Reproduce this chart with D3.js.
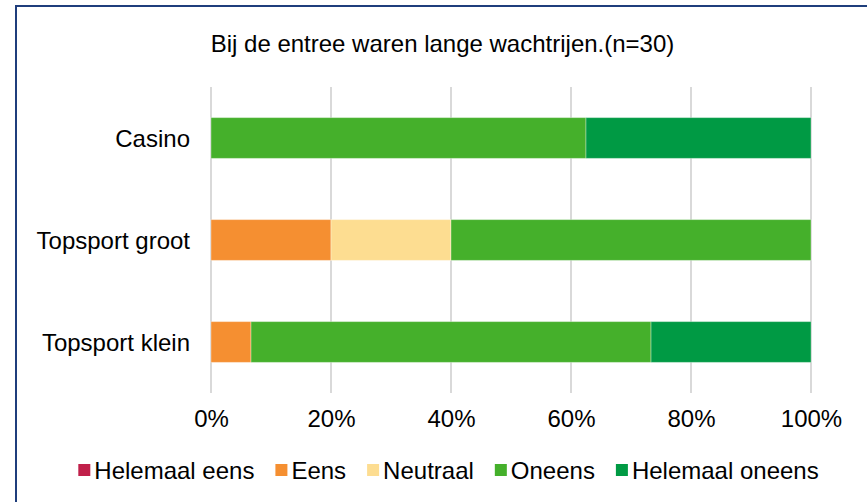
<!DOCTYPE html>
<html><head><meta charset="utf-8">
<script src="https://cdn.jsdelivr.net/npm/d3@7"></script>
<style>html,body{margin:0;padding:0;background:#fff;}svg{display:block;font-family:"Liberation Sans",Arial,sans-serif;}</style>
</head><body>
<svg id="c" width="867" height="502"></svg>
<script>
const title = "Bij de entree waren lange wachtrijen.(n=30)";
const categories = ["Casino", "Topsport groot", "Topsport klein"];
const seriesNames = ["Helemaal eens", "Eens", "Neutraal", "Oneens", "Helemaal oneens"];
const seriesColors = ["#C0204A", "#F58F31", "#FDDD91", "#45B02B", "#009A44"];
const helemaalEens = [0, 0, 0];
const eens = [0, 20, 6.67];
const neutraal = [0, 20, 0];
const oneens = [62.5, 60, 66.67];
const helemaalOneens = [37.5, 0, 26.67];
const tickValues = [0, 20, 40, 60, 80, 100];

const seriesValues = [helemaalEens, eens, neutraal, oneens, helemaalOneens];
const rows = categories.map((c, i) => {
  const r = {cat: c};
  seriesNames.forEach((s, j) => r[s] = seriesValues[j][i]);
  return r;
});

const svg = d3.select("#c");
const FS = 24;

svg.append("rect").attr("x", 16).attr("y", 6).attr("width", 900).attr("height", 600)
  .attr("fill", "#fff").attr("stroke", "#1F3E7C").attr("stroke-width", 2);

svg.append("text").attr("x", 442.5).attr("y", 52).attr("text-anchor", "middle")
  .attr("font-size", FS).attr("fill", "#000").text(title);

const x = d3.scaleLinear().domain([0, 100]).range([211, 811]);
const y = d3.scaleBand().domain(categories).range([87, 393]).paddingInner(0.6).paddingOuter(0.3);

// gridlines
svg.append("g").selectAll("line").data(tickValues).join("line")
  .attr("x1", d => x(d)).attr("x2", d => x(d)).attr("y1", 87).attr("y2", 393)
  .attr("stroke", "#D9D9D9").attr("stroke-width", 2);

const stack = d3.stack().keys(seriesNames)(rows);
svg.append("g").selectAll("g").data(stack).join("g")
  .attr("fill", (d, i) => seriesColors[i])
  .selectAll("rect").data(d => d.filter(p => p[1] - p[0] > 0)).join("rect")
  .attr("x", d => x(d[0])).attr("width", d => x(d[1]) - x(d[0]))
  .attr("y", d => y(d.data.cat)).attr("height", y.bandwidth())
  .attr("stroke", "#fff").attr("stroke-opacity", 0.35).attr("stroke-width", 1);

// y axis labels
const ya = svg.append("g").attr("transform", "translate(211,0)")
  .call(d3.axisLeft(y).tickSize(0).tickPadding(21));
ya.select(".domain").remove();
ya.selectAll("text").attr("font-size", FS).attr("fill", "#000")
  .attr("font-family", "Liberation Sans, Arial, sans-serif").attr("dy", "0.36em");

// x axis labels
const xa = svg.append("g").attr("transform", "translate(0,393)")
  .call(d3.axisBottom(x).tickValues(tickValues).tickFormat(d => d + "%").tickSize(0).tickPadding(17));
xa.select(".domain").remove();
xa.selectAll("text").attr("font-size", FS).attr("fill", "#000")
  .attr("font-family", "Liberation Sans, Arial, sans-serif");

// legend
const lg = svg.append("g");
const items = lg.selectAll("g").data(seriesNames).join("g");
items.append("rect").attr("width", 12).attr("height", 12).attr("y", 464)
  .attr("fill", (d, i) => seriesColors[i]);
items.append("text").attr("x", 16).attr("y", 479).attr("font-size", FS).attr("fill", "#000").text(d => d);
const widths = [];
items.each(function() { widths.push(this.querySelector("text").getComputedTextLength()); });
const gap = 21;
const total = widths.reduce((a, w) => a + 16 + w, 0) + gap * (widths.length - 1);
let cx = 448.5 - total / 2;
items.each(function(d, i) {
  d3.select(this).attr("transform", `translate(${cx},0)`);
  cx += 16 + widths[i] + gap;
});
</script>
</body></html>
